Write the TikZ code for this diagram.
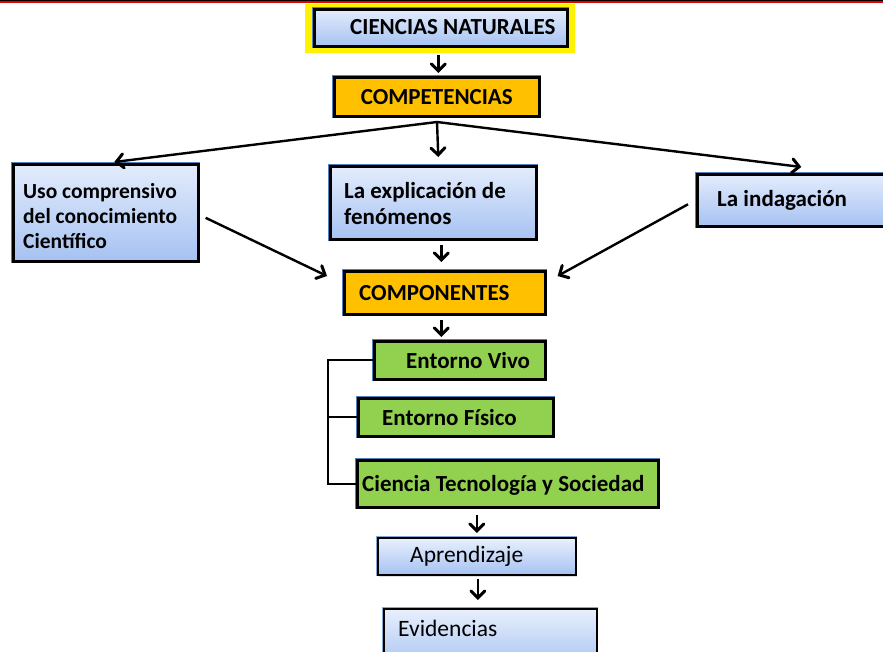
\documentclass[tikz,border=0pt]{standalone}
\usepackage{fontspec}
\setmainfont{Carlito}
\usetikzlibrary{arrows.meta,shadows,calc}
\definecolor{orng}{HTML}{FFC000}
\definecolor{grn}{HTML}{92D050}
\definecolor{rim}{HTML}{4F81BD}
\definecolor{btop}{HTML}{E3ECFC}
\definecolor{bbot}{HTML}{A6C2F2}
\tikzset{
  boxbase/.style={draw=black, line width=2.6pt, inner sep=0pt, anchor=north west,
    preaction={draw=rim, line width=4pt},
    drop shadow={shadow xshift=1.5pt, shadow yshift=-2pt, fill=black!35, opacity=0.45}},
  bluebox/.style={boxbase, top color=btop, bottom color=bbot},
  orangebox/.style={boxbase, fill=orng},
  greenbox/.style={boxbase, fill=grn},
  thinbox/.style={draw=black, line width=1.8pt, inner sep=0pt, anchor=north west,
    preaction={draw=rim!70, line width=3pt},
    top color=btop!80!white, bottom color=bbot,
    drop shadow={shadow xshift=1.5pt, shadow yshift=-2pt, fill=black!30, opacity=0.4}},
  lbl/.style={font=\fontsize{23}{26}\selectfont\bfseries, inner sep=0pt, anchor=west, align=left},
  lbls/.style={font=\fontsize{21.5}{25}\selectfont\bfseries, inner sep=0pt, anchor=west, align=left},
  lblr/.style={font=\fontsize{23.5}{26}\selectfont, inner sep=0pt, anchor=west, align=left},
  arr/.style={line width=2.4pt, -{Straight Barb[length=7pt,width=14pt,line width=3pt,line cap=round]}},
  ln/.style={line width=2pt}
}
\begin{document}
\begin{tikzpicture}[x=1pt,y=-1pt]
\useasboundingbox (0,0) rectangle (883,652);
\fill[white] (0,0) rectangle (883,652);
% top rule
\fill[black] (0,0) rectangle (883,0.9);
\fill[red!90!black] (0,0.9) rectangle (883,2.6);

% nodes
\node[fill=yellow, inner sep=0pt, minimum width=270pt, minimum height=49pt, anchor=north west] (cnhl) at (305,4) {};
\node[bluebox, minimum width=253pt, minimum height=37pt] (cn) at (313,8) {};
\node[lbl] (cntx) at ([xshift=37pt,yshift=1pt]cn.west) {CIENCIAS NATURALES};

\node[orangebox, minimum width=205pt, minimum height=39pt] (comp) at (333,76) {};
\node[lbl, anchor=center] (comptx) at (comp.center) {COMPETENCIAS};

\node[bluebox, minimum width=185pt, minimum height=97pt] (uso) at (12,163) {};
\node[lbls] (usotx) at ([xshift=11pt,yshift=-3pt]uso.west) {Uso comprensivo\\del conocimiento\\Científico};

\node[bluebox, minimum width=206pt, minimum height=73pt] (expl) at (329,165) {};
\node[lbl] (expltx) at ([xshift=15pt,yshift=-1pt]expl.west) {La explicación de\\fenómenos};

\node[bluebox, minimum width=190pt, minimum height=52pt] (indag) at (696,173) {};
\node[lbl] (indagtx) at ([xshift=21pt]indag.west) {La indagación};

\node[orangebox, minimum width=201pt, minimum height=43pt] (compo) at (343,270) {};
\node[lbl] (compotx) at ([xshift=16pt]compo.west) {COMPONENTES};

\node[greenbox, minimum width=171pt, minimum height=38pt] (ev) at (373,340) {};
\node[lbl] (evtx) at ([xshift=33pt]ev.west) {Entorno Vivo};

\node[greenbox, minimum width=195pt, minimum height=38pt] (ef) at (357,397) {};
\node[lbl] (eftx) at ([xshift=25pt]ef.west) {Entorno Físico};

\node[greenbox, minimum width=301pt, minimum height=47pt] (cts) at (356,459) {};
\node[lbl] (ctstx) at ([xshift=6pt,yshift=-2pt]cts.west) {Ciencia Tecnología y Sociedad};

\node[thinbox, minimum width=198pt, minimum height=37pt] (apr) at (377,537) {};
\node[lblr] (aprtx) at ([xshift=33pt]apr.west) {Aprendizaje};

\node[thinbox, minimum width=213pt, minimum height=60pt] (evi) at (383,608) {};
\node[lblr] (evitx) at ([xshift=15pt,yshift=-20pt]evi.north west) {Evidencias};

% connectors
\coordinate (c0) at ([xshift=1.5pt,yshift=-2pt]comp.north |- cnhl.south);
\draw[arr, shorten >=3pt] (c0) -- (c0 |- comp.north);
\coordinate (hub) at (437,122);
\draw[arr] (hub) -- ([xshift=8.5pt,yshift=1pt]uso.north);
\draw[arr] (hub) -- ([xshift=5pt,yshift=8pt]expl.north);
\draw[arr] (hub) -- ([xshift=9pt,yshift=6pt]indag.north);
\draw[arr] ([xshift=6pt,yshift=-5pt]uso.east) -- ([xshift=-16pt,yshift=-6pt]compo.north west);
\draw[arr] ([xshift=-8pt,yshift=-4pt]indag.west) -- ([xshift=11pt,yshift=-6pt]compo.north east);
\coordinate (e1) at ([xshift=8pt,yshift=-4pt]expl.south);
\draw[arr, shorten >=8pt] (e1) -- (e1 |- compo.north);
\coordinate (c1) at ([xshift=-3.5pt,yshift=-4pt]compo.south);
\draw[arr, shorten >=3pt] (c1) -- (c1 |- ev.north);
\draw[ln] (ev.west) -- ++(-45,0) coordinate (bk1) |- (cts.west);
\draw[ln] (ef.west) -- (bk1 |- ef.west);
\coordinate (a1) at ([xshift=-31pt,yshift=-6pt]cts.south);
\draw[arr, shorten >=4pt] (a1) -- (a1 |- apr.north);
\coordinate (a2) at ([xshift=1pt,yshift=-3pt]apr.south);
\draw[arr, shorten >=8pt] (a2) -- (a2 |- evi.north);
\end{tikzpicture}
\end{document}
